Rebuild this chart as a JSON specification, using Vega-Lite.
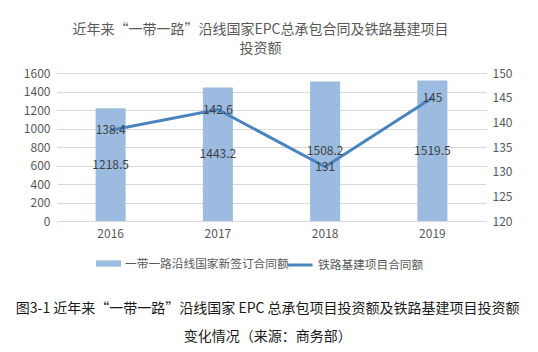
{
  "$schema": "https://vega.github.io/schema/vega-lite/v6.json",
  "padding": {"left": 15, "top": 23, "right": 5, "bottom": 5},
  "background": "white",
  "config": {
    "font": "Noto Sans CJK SC",
    "view": {"stroke": null},
    "axis": {"labelFont": "Noto Sans CJK SC", "labelFontSize": 12, "labelColor": "#595959", "gridColor": "#d9d9d9", "gridWidth": 1},
    "legend": {"labelFont": "Noto Sans CJK SC", "labelFontSize": 11.7, "labelColor": "#595959", "labelLimit": 300}
  },
  "title": {
    "text": ["图3-1 近年来“一带一路”沿线国家 EPC 总承包项目投资额及铁路基建项目投资额", "变化情况（来源：商务部）"],
    "orient": "bottom",
    "anchor": "middle",
    "font": "Noto Sans CJK SC",
    "fontSize": 14,
    "fontWeight": "normal",
    "lineHeight": 28,
    "color": "#1a1a1a",
    "offset": 30
  },
  "vconcat": [
    {
      "width": 429,
      "height": 148,
      "title": {
        "text": ["近年来“一带一路”沿线国家EPC总承包合同及铁路基建项目", "投资额"],
        "font": "Noto Sans CJK SC",
        "fontSize": 14,
        "fontWeight": "normal",
        "color": "#595959",
        "lineHeight": 19,
        "offset": 11,
        "dx": -11,
        "anchor": "middle"
      },
      "data": {
        "values": [
          {"year": "2016", "contract": 1218.5, "rail": 138.4},
          {"year": "2017", "contract": 1443.2, "rail": 142.6},
          {"year": "2018", "contract": 1508.2, "rail": 131},
          {"year": "2019", "contract": 1519.5, "rail": 145}
        ]
      },
      "encoding": {
        "x": {
          "field": "year",
          "type": "nominal",
          "scale": {"paddingInner": 0.72, "paddingOuter": 0.36},
          "axis": {"title": null, "labelAngle": 0, "domain": false, "ticks": false, "labelPadding": 7}
        }
      },
      "layer": [
        {
          "mark": {"type": "bar"},
          "encoding": {
            "y": {
              "field": "contract",
              "type": "quantitative",
              "scale": {"domain": [0, 1600], "nice": false},
              "axis": {"orient": "left", "title": null, "format": "d", "values": [0, 200, 400, 600, 800, 1000, 1200, 1400, 1600], "grid": true, "domain": false, "ticks": false, "labelPadding": 7}
            },
            "fill": {
              "datum": "一带一路沿线国家新签订合同额",
              "type": "nominal",
              "scale": {"range": ["#9bbbe0"]},
              "legend": {"title": null, "orient": "none", "legendX": 39, "legendY": 178, "symbolType": "M-1,-0.25H1V0.25H-1Z", "symbolSize": 625, "symbolStrokeWidth": 0}
            }
          }
        },
        {
          "mark": {"type": "line", "strokeWidth": 3},
          "encoding": {
            "y": {
              "field": "rail",
              "type": "quantitative",
              "scale": {"domain": [120, 150], "nice": false, "zero": false},
              "axis": {"orient": "right", "title": null, "values": [120, 125, 130, 135, 140, 145, 150], "grid": false, "domain": false, "ticks": false, "labelPadding": 6}
            },
            "stroke": {
              "datum": "铁路基建项目合同额",
              "type": "nominal",
              "scale": {"range": ["#4a84bf"]},
              "legend": {"title": null, "orient": "none", "legendX": 229, "legendY": 178, "symbolType": "stroke", "symbolSize": 625, "symbolStrokeWidth": 3}
            }
          }
        },
        {
          "mark": {"type": "text", "fontSize": 12, "color": "#404040"},
          "encoding": {
            "y": {"field": "rail", "type": "quantitative", "scale": {"domain": [120, 150], "nice": false, "zero": false}, "axis": null},
            "text": {"field": "rail", "type": "nominal"}
          }
        },
        {
          "mark": {"type": "text", "fontSize": 12, "color": "#404040"},
          "encoding": {
            "y": {"field": "contract", "type": "quantitative", "scale": {"domain": [0, 3200], "nice": false}, "axis": null},
            "text": {"field": "contract", "type": "nominal"}
          }
        }
      ],
      "resolve": {"scale": {"y": "independent"}}
    }
  ]
}
